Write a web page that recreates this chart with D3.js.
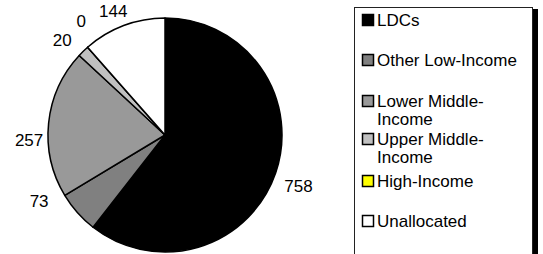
<!DOCTYPE html>
<html>
<head>
<meta charset="utf-8">
<script src="https://cdn.jsdelivr.net/npm/d3@7"></script>
<style>
  body { margin: 0; background: #fff; }
  text { font-family: "Liberation Sans", Arial, sans-serif; fill: #000; }
</style>
</head>
<body>
<svg id="chart" width="543" height="254"></svg>
<script>
// data
const categories = ["LDCs", "Other Low-Income", "Lower Middle-Income", "Upper Middle-Income", "High-Income", "Unallocated"];
const values     = [758, 73, 257, 20, 0, 144];
const colors     = ["#000000", "#808080", "#999999", "#c0c0c0", "#ffff00", "#ffffff"];

// layout tweaks for the value labels, like excel moved them:
// degrees off the slice middle, and distance from the pie center
const labelNudge = [2, 14, -8, -3, 5, -2];
const labelDist  = [143, 142, 136, 140, 141, 134];
// legend row centers
const legendRowY = [20, 60, 101, 139, 181, 221];

const svg = d3.select("#chart");
const cx = 165, cy = 135, radius = 117;

const data = categories.map((c, i) => ({ name: c, value: values[i], color: colors[i] }));

const pie = d3.pie().sort(null).value(d => d.value);
const arc = d3.arc().innerRadius(0).outerRadius(radius);
const arcs = pie(data);

const g = svg.append("g").attr("transform", `translate(${cx},${cy})`);

g.selectAll("path")
  .data(arcs)
  .enter().append("path")
    .attr("d", arc)
    .attr("fill", d => d.data.color)
    .attr("stroke", "#000")
    .attr("stroke-width", 1.5)
    .attr("stroke-linejoin", "round");

// value labels outside the pie
const labelAngle = (d, i) => (d.startAngle + d.endAngle) / 2 + labelNudge[i] * Math.PI / 180;
g.selectAll("text.val")
  .data(arcs)
  .enter().append("text")
    .attr("class", "val")
    .attr("x", (d, i) => labelDist[i] * Math.sin(labelAngle(d, i)))
    .attr("y", (d, i) => -labelDist[i] * Math.cos(labelAngle(d, i)))
    .attr("dy", "0.35em")
    .attr("text-anchor", "middle")
    .style("font-size", "17px")
    .text(d => d.data.value);

// legend box with shadow
const legend = svg.append("g");
legend.append("rect")
  .attr("x", 533).attr("y", 9)
  .attr("width", 5).attr("height", 260)
  .attr("fill", "#000");
legend.append("rect")
  .attr("x", 354.5).attr("y", 7.5)
  .attr("width", 178).attr("height", 260)
  .attr("fill", "#fff")
  .attr("stroke", "#222")
  .attr("stroke-width", 1);

const items = legend.selectAll("g.item")
  .data(data)
  .enter().append("g")
    .attr("class", "item")
    .attr("transform", (d, i) => `translate(0,${legendRowY[i]})`);

items.append("rect")
  .attr("x", 362.5).attr("y", -5.5)
  .attr("width", 11).attr("height", 11)
  .attr("fill", d => d.color)
  .attr("stroke", "#000")
  .attr("stroke-width", 1.5);

items.append("text")
  .attr("x", 377)
  .attr("y", 0)
  .style("font-size", "17px")
  .each(function(d) {
    const lines = d.name.replace("Middle-", "Middle-\n").split("\n");
    d3.select(this).selectAll("tspan")
      .data(lines)
      .enter().append("tspan")
        .attr("x", 377)
        .attr("dy", (l, j) => j === 0 ? "0.35em" : "18")
        .text(l => l);
  });
</script>
</body>
</html>
